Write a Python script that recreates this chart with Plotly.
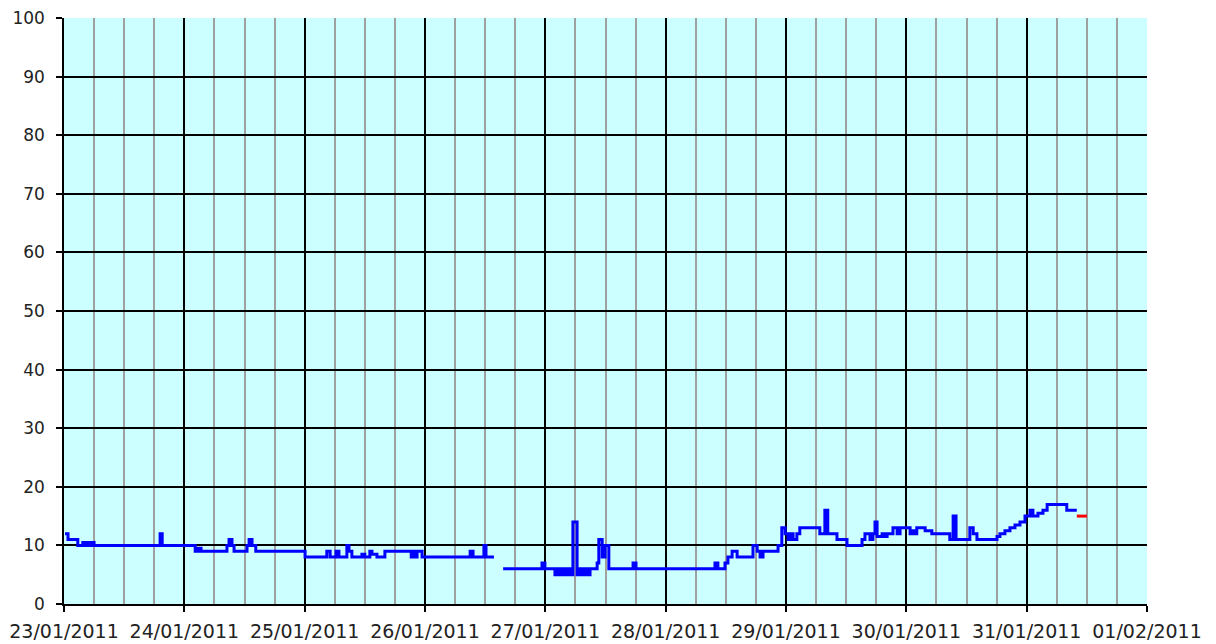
import plotly.graph_objects as go

# --- data ---
times = [
    "2011-01-23 00:12", "2011-01-23 00:48", "2011-01-23 02:45", "2011-01-23 03:45", "2011-01-23 04:10",
    "2011-01-23 04:45", "2011-01-23 05:10", "2011-01-23 05:35", "2011-01-23 06:00", "2011-01-23 19:10",
    "2011-01-23 19:35", "2011-01-24 02:10", "2011-01-24 02:45", "2011-01-24 03:20", "2011-01-24 08:30",
    "2011-01-24 08:55", "2011-01-24 09:30", "2011-01-24 09:55", "2011-01-24 12:30", "2011-01-24 12:55",
    "2011-01-24 13:30", "2011-01-24 14:15", "2011-01-25 00:05", "2011-01-25 04:25", "2011-01-25 05:05",
    "2011-01-25 06:15", "2011-01-25 06:50", "2011-01-25 08:25", "2011-01-25 08:50", "2011-01-25 09:25",
    "2011-01-25 11:25", "2011-01-25 12:00", "2011-01-25 13:00", "2011-01-25 13:25", "2011-01-25 14:25",
    "2011-01-25 16:00", "2011-01-25 21:15", "2011-01-25 21:35", "2011-01-25 22:00", "2011-01-25 22:25",
    "2011-01-25 23:25", "2011-01-26 09:00", "2011-01-26 09:35", "2011-01-26 11:45", "2011-01-26 12:10",
    "2011-01-26 13:45", "2011-01-26 14:35",
    "2011-01-26 15:35", "2011-01-26 23:20", "2011-01-26 23:55", "2011-01-27 01:55", "2011-01-27 02:20",
    "2011-01-27 02:55", "2011-01-27 03:30", "2011-01-27 04:05", "2011-01-27 04:30", "2011-01-27 04:55",
    "2011-01-27 05:30", "2011-01-27 06:20", "2011-01-27 06:55", "2011-01-27 07:20", "2011-01-27 07:55",
    "2011-01-27 08:20", "2011-01-27 08:55", "2011-01-27 10:20", "2011-01-27 10:40", "2011-01-27 11:20",
    "2011-01-27 11:55", "2011-01-27 12:40", "2011-01-27 17:30", "2011-01-27 18:05", "2011-01-28 09:50",
    "2011-01-28 10:25", "2011-01-28 11:50", "2011-01-28 12:25", "2011-01-28 13:15", "2011-01-28 14:15",
    "2011-01-28 17:25", "2011-01-28 18:15", "2011-01-28 18:50", "2011-01-28 19:25", "2011-01-28 22:25",
    "2011-01-28 23:10", "2011-01-28 23:50", "2011-01-29 00:25", "2011-01-29 00:50", "2011-01-29 01:25",
    "2011-01-29 02:10", "2011-01-29 02:45", "2011-01-29 06:45", "2011-01-29 07:45", "2011-01-29 08:20",
    "2011-01-29 10:10", "2011-01-29 12:10", "2011-01-29 15:10", "2011-01-29 15:45", "2011-01-29 16:45",
    "2011-01-29 17:20", "2011-01-29 17:45", "2011-01-29 18:10", "2011-01-29 19:10", "2011-01-29 19:45",
    "2011-01-29 20:10", "2011-01-29 21:20", "2011-01-29 22:10", "2011-01-29 22:45", "2011-01-30 00:45",
    "2011-01-30 01:10", "2011-01-30 01:30", "2011-01-30 02:05", "2011-01-30 03:45", "2011-01-30 05:05",
    "2011-01-30 08:40", "2011-01-30 09:20", "2011-01-30 09:55", "2011-01-30 12:40", "2011-01-30 13:20",
    "2011-01-30 14:05", "2011-01-30 18:05", "2011-01-30 18:40", "2011-01-30 19:40", "2011-01-30 20:40",
    "2011-01-30 21:40", "2011-01-30 22:40", "2011-01-30 23:40", "2011-01-31 00:40", "2011-01-31 01:15",
    "2011-01-31 02:15", "2011-01-31 03:15", "2011-01-31 04:05", "2011-01-31 08:00", "2011-01-31 10:00",
]
values = [
    12, 11, 10, 10.5, 10,
    10.5, 10, 10.5, 10, 12,
    10, 9, 9.5, 9, 10,
    11, 10, 9, 10, 11,
    10, 9, 8, 9, 8,
    9, 8, 10, 9, 8,
    8.5, 8, 9, 8.5, 8,
    9, 8, 9, 8, 9,
    8, 9, 8, 10, 8,
    8, None,
    6, 7, 6, 5, 6,
    5, 6, 5, 6, 5,
    14, 5, 6, 5, 6,
    5, 6, 7, 11, 8,
    10, 6, 7, 6, 7,
    6, 7, 8, 9, 8,
    10, 9, 8, 9, 10,
    13, 12, 11, 12, 11,
    12, 13, 12, 16, 12,
    11, 10, 11, 12, 11,
    12, 14, 11.5, 12, 11.5,
    12, 13, 12, 13, 12,
    12.5, 12, 13, 12.5, 12,
    11, 15, 11, 13, 12,
    11, 11.5, 12, 12.5, 13,
    13.5, 14, 15, 16, 15,
    15.5, 16, 17, 16, 16,
]
recent_times = ["2011-01-31 10:00", "2011-01-31 12:00"]
recent_values = [15, 15]

x_start = "2011-01-23"
x_end = "2011-02-01"
y_range = [0, 100]

fig = go.Figure()
fig.add_trace(go.Scatter(
    x=times, y=values, mode="lines", line_shape="hv", connectgaps=False,
    line=dict(color="#0000FF", width=3), showlegend=False, hoverinfo="x+y",
))
fig.add_trace(go.Scatter(
    x=recent_times, y=recent_values, mode="lines", line_shape="hv",
    line=dict(color="#FF0000", width=3), showlegend=False, hoverinfo="x+y",
))

fig.update_layout(
    width=1208, height=636,
    margin=dict(l=56, r=69, t=10, b=40, autoexpand=False),
    paper_bgcolor="white", plot_bgcolor="#CCFFFF",
    font=dict(family="DejaVu Sans", color="#222222"),
)
fig.update_xaxes(
    type="date", range=[x_start, x_end], automargin=False,
    dtick=86400000, tick0=x_start, tickformat="%d/%m/%Y",
    tickfont=dict(size=19, family="DejaVu Sans", color="#222222"),
    ticklabeloverflow="allow", ticklabelstandoff=3,
    showgrid=True, gridcolor="#000000", gridwidth=1.5,
    minor=dict(dtick=6 * 3600000, showgrid=True, gridcolor="#A0A0A0", gridwidth=1.5),
    ticks="outside", ticklen=6, tickcolor="#000000", tickwidth=1.5,
    showline=True, linecolor="#000000", linewidth=1.5,
    zeroline=False, tickangle=0,
)
fig.update_yaxes(
    range=y_range, dtick=10, automargin=False,
    tickfont=dict(size=17, family="DejaVu Sans", color="#222222"),
    ticklabeloverflow="allow",
    showgrid=True, gridcolor="#000000", gridwidth=1.5,
    ticks="outside", ticklen=6, tickcolor="#000000", tickwidth=1.5,
    ticklabelstandoff=8,
    showline=True, linecolor="#000000", linewidth=1.5,
    zeroline=False,
)

fig.write_html("out.html")
